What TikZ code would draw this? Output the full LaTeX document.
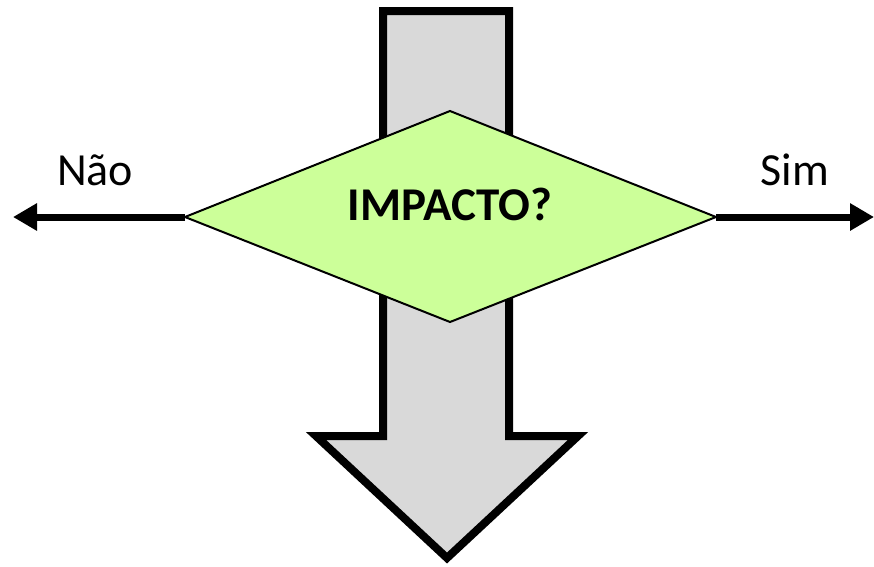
\documentclass[tikz,border=0pt]{standalone}
\usepackage{fontspec}
\setmainfont{Carlito}
\usetikzlibrary{arrows.meta}
\definecolor{arrowgray}{HTML}{D9D9D9}
\definecolor{diamondgreen}{HTML}{CCFF99}
\begin{document}
\begin{tikzpicture}[x=1pt,y=-1pt,
  bigarrow/.style={draw=black,line width=8pt,fill=arrowgray,line join=miter},
  decision/.style={draw=black,line width=2pt,fill=diamondgreen,line join=miter},
  branch/.style={line width=7pt,-{Triangle[length=24pt,width=26pt]}},
  lbl/.style={font=\fontsize{46}{54}\selectfont,inner sep=0pt}]
\useasboundingbox (0,0) rectangle (874,566);
% big downward arrow
\draw[bigarrow] (383,11) -- (509,11) -- (509,436) -- (578,436) -- (447,558) -- (316,436) -- (383,436) -- cycle;
% diamond
\coordinate (L) at (185,217);
\coordinate (R) at (716,217);
\coordinate (T) at (450,111);
\coordinate (B) at (450,322);
\draw[decision] (L) -- (T) -- (R) -- (B) -- cycle;
\node[font=\bfseries\fontsize{47}{56}\selectfont,inner sep=0pt] (q) at (450,204) {IMPACTO?};
% branches
\coordinate (lend) at (13,217);
\coordinate (rend) at (874,217);
\draw[branch] (L) -- (lend);
\draw[branch] (R) -- (rend);
\node[lbl,anchor=base] (nao) at (95,185) {Não};
\node[lbl,anchor=base] (sim) at (795,185) {Sim};
\end{tikzpicture}
\end{document}
